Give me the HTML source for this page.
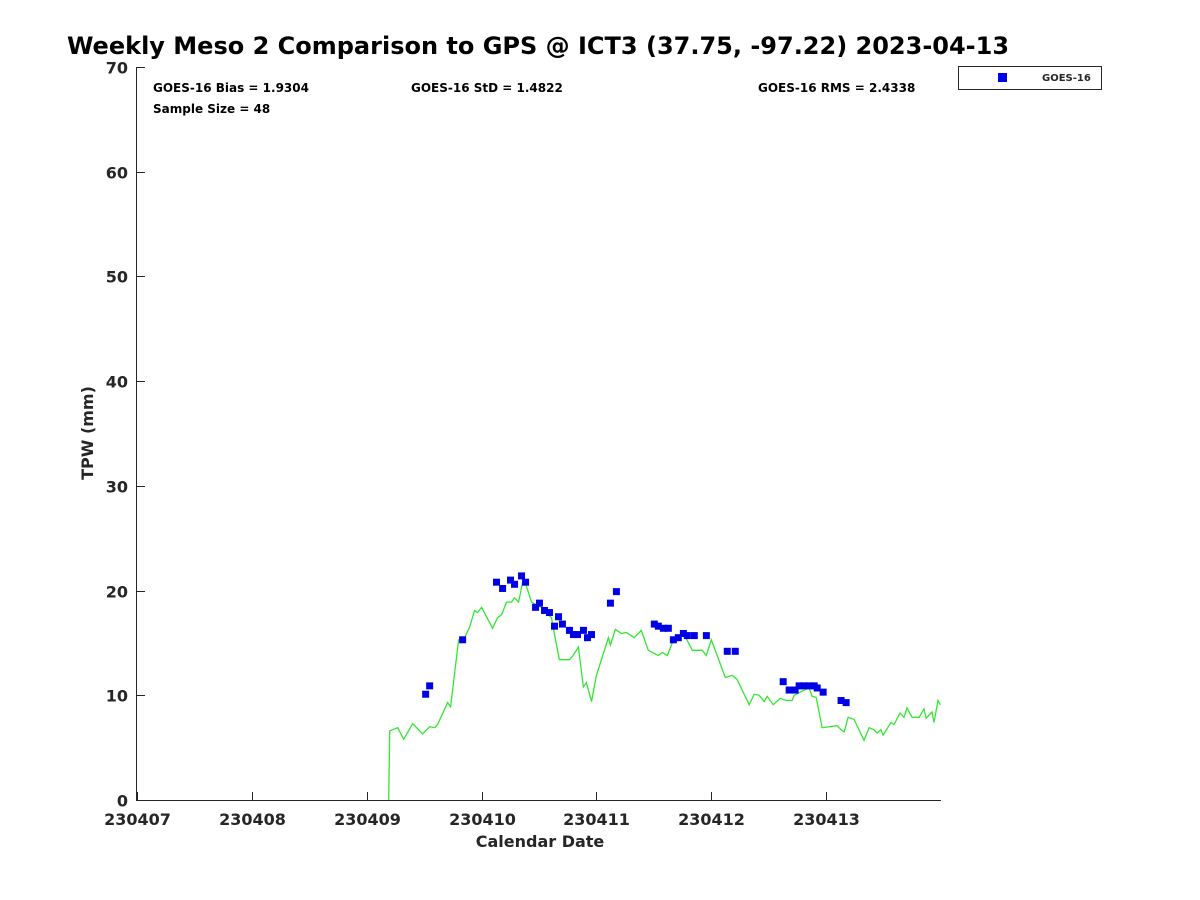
<!DOCTYPE html>
<html><head><meta charset="utf-8"><style>body{margin:0;background:#fff}svg{display:block;font-family:"DejaVu Sans","Liberation Sans",sans-serif;font-weight:bold}</style></head>
<body>
<svg id="c" width="1200" height="900">
<text x="538" y="54" text-anchor="middle" font-size="24" fill="#000">Weekly Meso 2 Comparison to GPS @ ICT3 (37.75, -97.22) 2023-04-13</text>
<text x="153" y="92" font-size="12">GOES-16 Bias = 1.9304</text>
<text x="153" y="113" font-size="12">Sample Size = 48</text>
<text x="411" y="92" font-size="12">GOES-16 StD = 1.4822</text>
<text x="758" y="92" font-size="12">GOES-16 RMS = 2.4338</text>
<g>
<rect x="958.5" y="66.5" width="143" height="23" fill="#fff" stroke="#262626" stroke-width="1"/>
<rect x="998" y="73" width="9" height="9" fill="#0000e6"/>
<text x="1042" y="81" font-size="10" fill="#262626">GOES-16</text>
</g>
<g id="axes"></g>
<g id="marks"></g>
<text x="540" y="847" text-anchor="middle" font-size="16" fill="#262626">Calendar Date</text>
<text transform="translate(93,433) rotate(-90)" text-anchor="middle" font-size="16" fill="#262626">TPW (mm)</text>
</svg>
<script>
const xTickLabels=["230407","230408","230409","230410","230411","230412","230413"];
const yTicks=[0,10,20,30,40,50,60,70];
const gpsDays=[2.191,2.200,2.270,2.322,2.400,2.487,2.548,2.591,2.617,2.704,2.730,2.800,2.852,2.896,2.939,2.965,3.000,3.096,3.139,3.174,3.217,3.261,3.287,3.322,3.365,3.391,3.435,3.478,3.522,3.565,3.609,3.635,3.678,3.722,3.765,3.791,3.843,3.887,3.913,3.957,4.000,4.104,4.122,4.165,4.217,4.261,4.330,4.391,4.452,4.539,4.574,4.617,4.678,4.765,4.835,4.922,4.957,5.000,5.122,5.183,5.226,5.330,5.374,5.417,5.461,5.487,5.539,5.600,5.652,5.704,5.722,5.809,5.852,5.878,5.913,5.965,6.096,6.130,6.157,6.191,6.243,6.330,6.374,6.417,6.443,6.478,6.496,6.565,6.591,6.643,6.678,6.704,6.748,6.809,6.852,6.870,6.922,6.939,6.974,6.995];
const gpsValues=[0,6.6,6.9,5.8,7.3,6.3,7.0,6.9,7.2,9.3,8.9,15.3,15.5,16.5,18.1,17.9,18.4,16.4,17.4,17.7,18.9,18.9,19.3,18.9,21.2,20.4,18.9,18.6,18.4,17.9,17.4,15.8,13.4,13.4,13.4,13.7,14.6,10.8,11.2,9.4,11.9,15.5,14.8,16.3,15.9,16.0,15.5,16.2,14.3,13.8,14.1,13.8,15.5,15.8,14.3,14.3,13.8,15.3,11.7,11.9,11.5,9.1,10.1,10.0,9.4,9.9,9.1,9.7,9.5,9.5,10.0,10.5,10.7,9.9,9.8,6.9,7.1,6.7,6.5,7.9,7.7,5.7,6.9,6.7,6.4,6.7,6.2,7.4,7.2,8.3,7.9,8.8,7.9,7.9,8.7,7.8,8.4,7.4,9.5,9.1];
const goesDays=[2.513,2.548,2.835,3.130,3.183,3.252,3.287,3.348,3.383,3.470,3.504,3.548,3.591,3.635,3.670,3.704,3.765,3.800,3.835,3.887,3.922,3.957,4.122,4.174,4.504,4.539,4.583,4.626,4.670,4.713,4.757,4.791,4.852,4.957,5.139,5.209,5.626,5.678,5.730,5.765,5.809,5.852,5.896,5.922,5.974,6.130,6.174];
const goesValues=[10.1,10.9,15.3,20.8,20.2,21.0,20.6,21.4,20.8,18.4,18.8,18.1,17.9,16.6,17.5,16.8,16.2,15.8,15.8,16.2,15.5,15.8,18.8,19.9,16.8,16.6,16.4,16.4,15.3,15.5,15.9,15.7,15.7,15.7,14.2,14.2,11.3,10.5,10.5,10.9,10.9,10.9,10.9,10.7,10.3,9.5,9.3];
const L=137,R=941,T=67,B=800,XMAX=7,YMAX=70;
const xs=d=>L+d/XMAX*(R-L), ys=v=>B-v/YMAX*(B-T);
const NS="http://www.w3.org/2000/svg";
function mk(t,a,p){const e=document.createElementNS(NS,t);for(const k in a)e.setAttribute(k,a[k]);p.appendChild(e);return e;}
const ax=document.getElementById('axes'),mg=document.getElementById('marks');
const yl=mk('line',{x1:L-0.5,y1:T,x2:L-0.5,y2:B,stroke:'#262626'},ax);

const xl=mk('line',{x1:L-1,y1:B+0.5,x2:R,y2:B+0.5,stroke:'#262626'},ax);

xTickLabels.forEach((s,i)=>{const x=Math.round(xs(i))+0.5;
 const t=mk('line',{x1:x,y1:B,x2:x,y2:B-8,stroke:'#262626'},ax);
 
 const tx=mk('text',{x:x,y:B+25,'text-anchor':'middle','font-size':16,fill:'#262626'},ax);tx.textContent=s;
 });
yTicks.forEach(v=>{const y=Math.round(ys(v))+0.5;
 const t=mk('line',{x1:L,y1:y,x2:L+8,y2:y,stroke:'#262626'},ax);
 
 const tx=mk('text',{x:L-9,y:y+6,'text-anchor':'end','font-size':16,fill:'#262626'},ax);tx.textContent=v;
 });
const pts=gpsDays.map((d,i)=>xs(d).toFixed(1)+','+ys(gpsValues[i]).toFixed(1)).join(' ');
const pl=mk('polyline',{points:pts,fill:'none',stroke:'#33e633','stroke-width':1.3},mg);

goesDays.forEach((d,i)=>{const r=mk('rect',{x:xs(d)-3.5,y:ys(goesValues[i])-3.5,width:7,height:7,fill:'#0000e6'},mg);
 });
</script>
</body></html>
